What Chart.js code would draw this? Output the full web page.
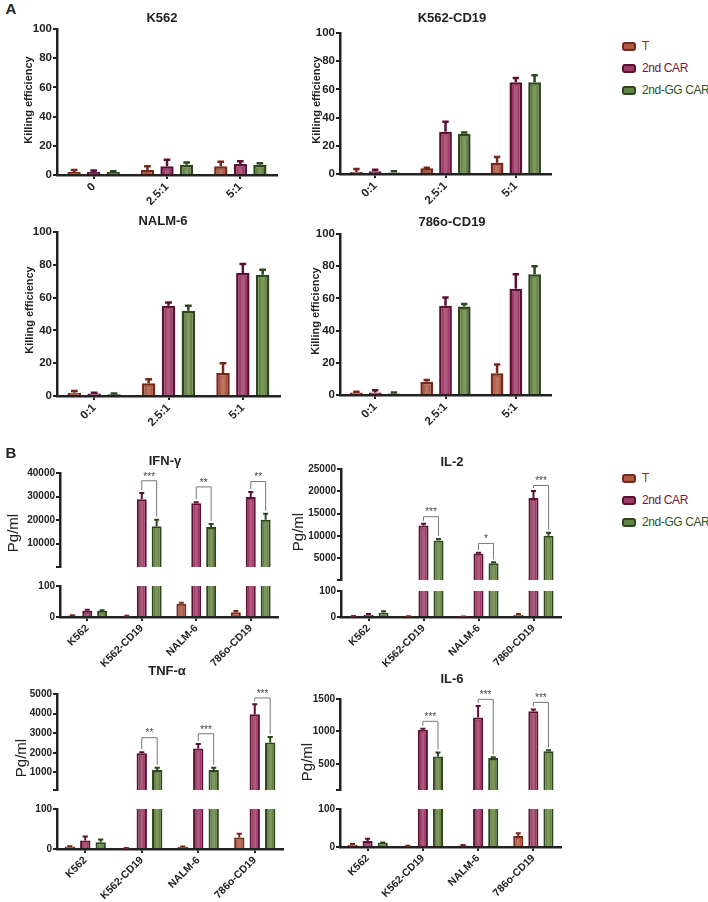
<!DOCTYPE html>
<html>
<head>
<meta charset="utf-8">
<script src="https://cdn.jsdelivr.net/npm/chart.js@4.4.1/dist/chart.umd.min.js"></script>
<style>
  body { margin: 0; background: #fff; width: 708px; height: 902px; position: relative; overflow: hidden;
         font-family: "Liberation Sans", Arial, sans-serif; color: #222; }
  canvas { position: absolute; }
  .txt { position: absolute; white-space: nowrap; line-height: 1; }
  .lg { position: absolute; left: 622px; font-size: 12px; letter-spacing: -0.4px; white-space: nowrap; }
  .lg .row { height: 22px; display: flex; align-items: center; }
  .lg .sw { width: 10px; height: 5px; border: 2.5px solid; border-radius: 3px; margin-right: 6px; flex: none; }
</style>
</head>
<body>
<script>
// ---- data ----
const seriesNames = ['T', '2nd CAR', '2nd-GG CAR'];
const ratiosK562 = ['0', '2.5:1', '5:1'];
const ratios = ['0:1', '2.5:1', '5:1'];
const cells = ['K562', 'K562-CD19', 'NALM-6', '786o-CD19'];
const cellsIL2 = ['K562', 'K562-CD19', 'NALM-6', '7860-CD19'];

// A: killing efficiency (%), mean and upper error
const k562T = [2, 3.5, 6],       k562TErr = [1.5, 2.5, 3];
const k562Car = [2, 6, 7.5],     k562CarErr = [1, 4.5, 2];
const k562GG = [2, 7, 7],        k562GGErr = [0.5, 1.5, 1];

const cd19T = [1.5, 4, 8],       cd19TErr = [2, 0.5, 4];
const cd19Car = [2, 30, 65],     cd19CarErr = [1, 7, 3];
const cd19GG = [1, 28.5, 65],    cd19GGErr = [1, 1, 5];

const nalmT = [2, 7.7, 14],      nalmTErr = [1, 2.5, 6];
const nalmCar = [1.5, 55, 75],   nalmCarErr = [0.5, 2, 5.5];
const nalmGG = [1, 52, 74],      nalmGGErr = [0.5, 3, 3];

const o786T = [1.5, 8.3, 13.5],  o786TErr = [0.5, 1, 5.5];
const o786Car = [1.5, 55.5, 66], o786CarErr = [1.5, 5, 9];
const o786GG = [1, 55, 75],      o786GGErr = [0.5, 1.5, 5];

// B: cytokines (pg/ml)
const ifnT = [5, 3, 43, 15],              ifnTErr = [1, 1, 3, 4];
const ifnCar = [20, 28900, 27200, 29800], ifnCarErr = [3, 2600, 400, 2100];
const ifnGG = [20, 17400, 17100, 20200],  ifnGGErr = [2, 2800, 1300, 2500];
const ifnSig = ['', '***', '**', '**'],   ifnBracket = [null, 36700, 34100, 36400];

const il2T = [3, 2, 1, 8],                il2TErr = [1, 1, 0.5, 4];
const il2Car = [8, 12300, 6060, 18500],   il2CarErr = [4, 400, 140, 1570];
const il2GG = [16, 8970, 3870, 10000],    il2GGErr = [6, 330, 210, 700];
const il2Sig = ['', '***', '*', '***'],   il2Bracket = [null, 14300, 8300, 21300];

const tnfT = [6, 2, 5, 29],               tnfTErr = [1, 0.5, 1, 9];
const tnfCar = [21, 1980, 2220, 3970],    tnfCarErr = [10, 50, 230, 510];
const tnfGG = [17, 1125, 1125, 2530],     tnfGGErr = [7, 105, 105, 270];
const tnfSig = ['', '**', '***', '***'],  tnfBracket = [null, 2770, 2970, 4800];

const il6T = [6, 3, 4, 29],               il6TErr = [2, 0.5, 1, 7];
const il6Car = [16, 1026, 1214, 1312],    il6CarErr = [6, 15, 180, 25];
const il6GG = [11, 617, 593, 697],        il6GGErr = [1, 60, 10, 14];
const il6Sig = ['', '***', '***', '***'], il6Bracket = [null, 1157, 1495, 1448];

const killTicks = [0, 20, 40, 60, 80, 100];
const lowTicks = [0, 100];
const ifnTicks = [100, 10000, 20000, 30000, 40000];
const il2Ticks = [100, 5000, 10000, 15000, 20000, 25000];
const tnfTicks = [100, 1000, 2000, 3000, 4000, 5000];
const il6Ticks = [100, 500, 1000, 1500];

// ---- style ----
const ink = '#222';
const fills = ['#ad5a43', '#9c3c66', '#658441'];
const edges = ['#76281a', '#5a0f33', '#2c4720'];
const legendInk = ['#8b3322', '#6b1b3d', '#34502a'];

Chart.defaults.font.family = 'Liberation Sans, Arial, sans-serif';

// lighter band down the middle of each bar, like the original rendering
const barSheen = {
  id: 'barSheen',
  afterDatasetsDraw(chart) {
    const {ctx, chartArea: a} = chart;
    ctx.save();
    ctx.beginPath();
    ctx.rect(a.left, a.top, a.right - a.left, a.bottom - a.top);
    ctx.clip();
    ctx.fillStyle = 'rgba(255,255,255,0.16)';
    chart.data.datasets.forEach((ds, i) => {
      chart.getDatasetMeta(i).data.forEach((bar, j) => {
        if (ds.data[j] == null) return;
        const inset = ds.borderWidth + 1;
        const top = Math.min(bar.y, bar.base) + inset;
        const bottom = Math.max(bar.y, bar.base);
        if (bottom - top < 2) return;
        const w = Math.max(2, bar.width * 0.3);
        ctx.fillRect(bar.x - w / 2, top, w, bottom - top);
      });
    });
    ctx.restore();
  }
};

const errorBars = {
  id: 'errorBars',
  afterDatasetsDraw(chart) {
    const {ctx, chartArea: a, scales: {y}} = chart;
    ctx.save();
    ctx.beginPath();
    ctx.rect(a.left - 10, a.top, a.right - a.left + 20, a.bottom - a.top);
    ctx.clip();
    chart.data.datasets.forEach((ds, i) => {
      chart.getDatasetMeta(i).data.forEach((bar, j) => {
        if (ds.data[j] == null) return;
        const y0 = y.getPixelForValue(ds.data[j]);
        const y1 = y.getPixelForValue(ds.data[j] + ds.err[j]);
        const cap = bar.width * 0.5;
        ctx.strokeStyle = ds.borderColor;
        ctx.lineWidth = ds.borderWidth;
        ctx.beginPath();
        ctx.moveTo(bar.x, y0);
        ctx.lineTo(bar.x, y1);
        ctx.moveTo(bar.x - cap / 2, y1);
        ctx.lineTo(bar.x + cap / 2, y1);
        ctx.stroke();
      });
    });
    ctx.restore();
  }
};

function brackets(labels, heights) {
  return {
    id: 'brackets',
    afterDatasetsDraw(chart) {
      if (!labels) return;
      const {ctx, scales: {y}} = chart;
      const d = chart.data.datasets;
      const m1 = chart.getDatasetMeta(1), m2 = chart.getDatasetMeta(2);
      labels.forEach((lab, j) => {
        if (!lab) return;
        const xa = m1.data[j].x, xb = m2.data[j].x;
        const yt = y.getPixelForValue(heights[j]);
        const ya = y.getPixelForValue(d[1].data[j] + d[1].err[j]) - 3;
        const yb = y.getPixelForValue(d[2].data[j] + d[2].err[j]) - 3;
        ctx.save();
        ctx.strokeStyle = '#777';
        ctx.lineWidth = 1;
        ctx.beginPath();
        ctx.moveTo(xa, ya); ctx.lineTo(xa, yt); ctx.lineTo(xb, yt); ctx.lineTo(xb, yb);
        ctx.stroke();
        ctx.fillStyle = '#444';
        ctx.font = '10px Liberation Sans, Arial';
        ctx.textAlign = 'center';
        ctx.textBaseline = 'bottom';
        ctx.fillText(lab, (xa + xb) / 2, yt + 1);
        ctx.restore();
      });
    }
  };
}

function addCanvas(area, o) {
  const [L, T, R, B] = area;
  const x = L - o.padL, y = T - o.padT;
  const w = R - x + o.padR, h = B - y + o.padB;
  const c = document.createElement('canvas');
  c.width = w; c.height = h;
  Object.assign(c.style, {left: x + 'px', top: y + 'px', width: w + 'px', height: h + 'px'});
  document.body.appendChild(c);
  return c;
}

function barChart(area, o) {
  const canvas = addCanvas(area, o);
  return new Chart(canvas, {
    type: 'bar',
    data: {
      labels: o.labels,
      datasets: seriesNames.map((name, i) => ({
        label: name,
        // values under the axis minimum belong to the lower part of a broken axis
        data: o.values[i].map(v => (v > o.min ? v : null)),
        err: o.errors[i],
        backgroundColor: fills[i],
        borderColor: edges[i],
        borderWidth: o.bw,
        borderSkipped: 'start',
        clip: 0
      }))
    },
    options: {
      responsive: false,
      animation: false,
      devicePixelRatio: 1,
      categoryPercentage: o.cat,
      barPercentage: o.bar,
      layout: {padding: {left: 0, top: o.padT, right: o.padR, bottom: o.showX ? 0 : o.padB}},
      plugins: {legend: {display: false}, tooltip: {enabled: false}},
      scales: {
        x: {
          display: o.showX,
          grid: {offset: false, drawOnChartArea: false, color: ink, lineWidth: 2, tickLength: 4},
          border: {color: ink, width: 2.5},
          ticks: {color: ink, font: {size: o.xFont, weight: 700}, minRotation: 45, maxRotation: 45,
                  autoSkip: false, padding: 1},
          afterFit: s => { s.height = o.padB; }
        },
        y: {
          min: o.min,
          max: o.max,
          afterBuildTicks: s => { s.ticks = o.ticks.map(v => ({value: v})); },
          grid: {drawOnChartArea: false, color: ink, lineWidth: 2, tickLength: 4},
          border: {color: ink, width: 2.5},
          ticks: {color: ink, font: {size: o.yFont, weight: 700}, padding: 1,
                  callback: v => (o.hideMin && v === o.min) ? '' : String(v)},
          afterFit: s => { s.width = o.padL; }
        }
      }
    },
    plugins: [barSheen, errorBars, brackets(o.sig, o.bracket)]
  });
}

function panelA(labels, values, errors, area) {
  barChart(area, {labels, values, errors, min: 0, max: 100, ticks: killTicks, showX: true,
    padL: 40, padT: 15, padR: 10, padB: 42, cat: 0.8, bar: 0.68, bw: 2.5, xFont: 11.5, yFont: 11.5});
}

function panelB(labels, values, errors, topArea, lowArea, max, ticks, sig, bracket) {
  barChart(topArea, {labels, values, errors, min: 100, max, ticks, hideMin: true, showX: false,
    sig, bracket, padL: 45, padT: 30, padR: 10, padB: 8, cat: 0.82, bar: 0.67, bw: 2, xFont: 10.5, yFont: 10});
  barChart(lowArea, {labels, values, errors, min: -0.001, max: 100, ticks: lowTicks, showX: true,
    padL: 45, padT: 8, padR: 10, padB: 58, cat: 0.82, bar: 0.67, bw: 2, xFont: 10.5, yFont: 10});
}

function text(str, x, y, css, rotate) {
  const el = document.createElement('div');
  el.className = 'txt';
  el.textContent = str;
  Object.assign(el.style, {left: x + 'px', top: y + 'px'}, css);
  el.style.transform = 'translate(-50%,-50%)' + (rotate ? ' rotate(-90deg)' : '');
  document.body.appendChild(el);
}

function legend(top) {
  const box = document.createElement('div');
  box.className = 'lg';
  box.style.top = top + 'px';
  seriesNames.forEach((name, i) => {
    const row = document.createElement('div');
    row.className = 'row';
    const sw = document.createElement('span');
    sw.className = 'sw';
    sw.style.background = fills[i];
    sw.style.borderColor = edges[i];
    const lab = document.createElement('span');
    lab.textContent = name;
    lab.style.color = legendInk[i];
    row.append(sw, lab);
    box.append(row);
  });
  document.body.appendChild(box);
}

// ---- panel A ----
panelA(ratiosK562, [k562T, k562Car, k562GG], [k562TErr, k562CarErr, k562GGErr], [57, 29, 277, 175]);
panelA(ratios, [cd19T, cd19Car, cd19GG], [cd19TErr, cd19CarErr, cd19GGErr], [340, 33, 551, 174]);
panelA(ratios, [nalmT, nalmCar, nalmGG], [nalmTErr, nalmCarErr, nalmGGErr], [57, 232, 280, 396]);
panelA(ratios, [o786T, o786Car, o786GG], [o786TErr, o786CarErr, o786GGErr], [340, 234, 551, 395]);

// ---- panel B (broken y axis: upper and lower part) ----
panelB(cells, [ifnT, ifnCar, ifnGG], [ifnTErr, ifnCarErr, ifnGGErr],
  [60, 473, 278, 575], [60, 586, 278, 617], 40000, ifnTicks, ifnSig, ifnBracket);
panelB(cellsIL2, [il2T, il2Car, il2GG], [il2TErr, il2CarErr, il2GGErr],
  [341, 469, 561, 588], [341, 591, 561, 617], 25000, il2Ticks, il2Sig, il2Bracket);
panelB(cells, [tnfT, tnfCar, tnfGG], [tnfTErr, tnfCarErr, tnfGGErr],
  [57, 694, 283, 798], [57, 809, 283, 849], 5000, tnfTicks, tnfSig, tnfBracket);
panelB(cells, [il6T, il6Car, il6GG], [il6TErr, il6CarErr, il6GGErr],
  [340, 699, 561, 798], [340, 809, 561, 847], 1500, il6Ticks, il6Sig, il6Bracket);

// ---- text ----
const bold13 = {fontWeight: 'bold', fontSize: '13px'};
text('A', 11, 8, {fontWeight: 'bold', fontSize: '15px'});
text('B', 11, 452, {fontWeight: 'bold', fontSize: '15px'});
text('K562', 162, 17, bold13);
text('K562-CD19', 452, 17, bold13);
text('NALM-6', 163, 220, bold13);
text('786o-CD19', 452, 221, bold13);
text('IFN-γ', 165, 460, bold13);
text('IL-2', 452, 461, bold13);
text('TNF-α', 167, 670, bold13);
text('IL-6', 452, 678, bold13);

const yTitle = {fontWeight: 'bold', fontSize: '11px'};
text('Killing efficiency', 28, 100, yTitle, true);
text('Killing efficiency', 316, 100, yTitle, true);
text('Killing efficiency', 29, 310, yTitle, true);
text('Killing efficiency', 315, 311, yTitle, true);

const pg = {fontSize: '15px'};
text('Pg/ml', 12, 533, pg, true);
text('Pg/ml', 297, 532, pg, true);
text('Pg/ml', 20, 758, pg, true);
text('Pg/ml', 306, 762, pg, true);

legend(35);
legend(467);
</script>
</body>
</html>
